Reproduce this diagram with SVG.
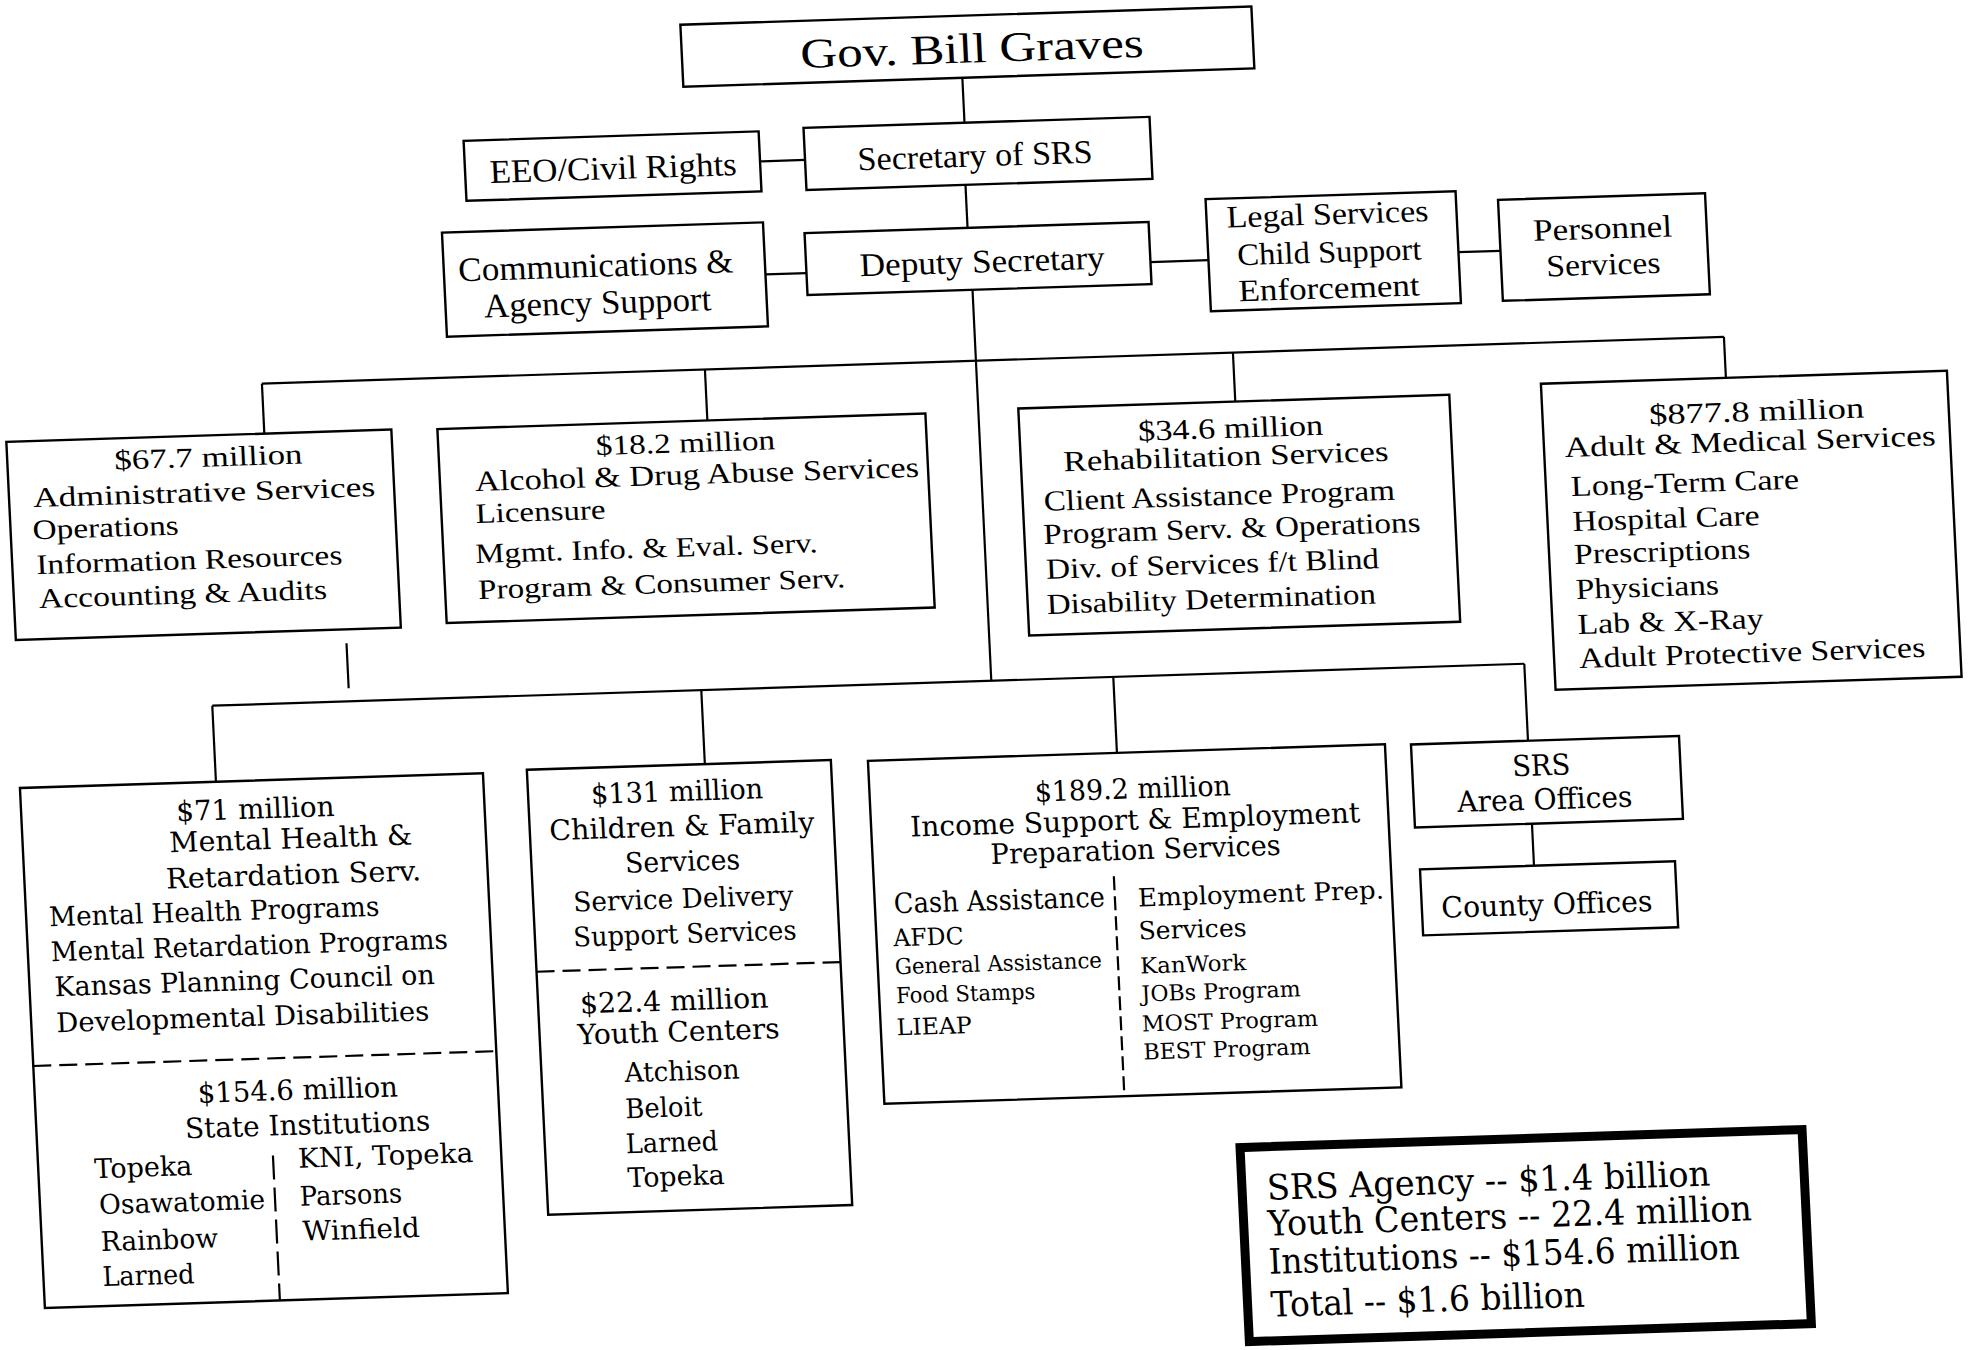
<svg xmlns="http://www.w3.org/2000/svg" width="1970" height="1350" viewBox="0 0 1970 1350">
<style>
.box{fill:#fff;stroke:#000;stroke-width:2.4}
.ln{stroke:#000;stroke-width:2.2;fill:none}
.dh{stroke:#000;stroke-width:2.2;fill:none;stroke-dasharray:18 8}
.dv{stroke:#000;stroke-width:2.2;fill:none;stroke-dasharray:24 8}
.sum{fill:#fff;stroke:#000;stroke-width:9}
text{fill:#000}
.a{font-family:"Liberation Serif","Times New Roman",serif}
.b{font-family:"DejaVu Serif","Liberation Serif",serif}
.m{text-anchor:middle}
</style>
<rect x="0" y="0" width="1970" height="1350" fill="#fff"/>
<g transform="matrix(1,-0.032,0.048,1,-32.4,31.5)">
<g id="connectors">
<line class="ln" x1="991" y1="78" x2="991" y2="123"/>
<line class="ln" x1="785" y1="155" x2="830" y2="155"/>
<line class="ln" x1="989" y1="185" x2="989" y2="228"/>
<line class="ln" x1="785" y1="268" x2="826" y2="268"/>
<line class="ln" x1="1170" y1="268" x2="1228" y2="268"/>
<line class="ln" x1="1478" y1="268" x2="1520" y2="268"/>
<line class="ln" x1="991" y1="290" x2="991" y2="681"/>
<line class="ln" x1="277" y1="361" x2="1739" y2="361"/>
<line class="ln" x1="277" y1="361" x2="277" y2="411"/>
<line class="ln" x1="720" y1="361" x2="720" y2="412"/>
<line class="ln" x1="1248" y1="361" x2="1248" y2="410"/>
<line class="ln" x1="1739" y1="361" x2="1739" y2="402"/>
<line class="ln" x1="349" y1="623" x2="349" y2="668"/>
<line class="ln" x1="212" y1="681" x2="1524" y2="681"/>
<line class="ln" x1="212" y1="681" x2="212" y2="757"/>
<line class="ln" x1="701" y1="681" x2="701" y2="755"/>
<line class="ln" x1="1113" y1="681" x2="1113" y2="757"/>
<line class="ln" x1="1524" y1="681" x2="1524" y2="758"/>
<line class="ln" x1="1524" y1="841" x2="1524" y2="883"/>
</g>
<g id="gov">
<rect class="box" x="712" y="16" width="571" height="62"/>
<text class="a m" x="1002" y="63" font-size="42" textLength="343" lengthAdjust="spacingAndGlyphs">Gov. Bill Graves</text>
</g>
<g id="eeo">
<rect class="box" x="490" y="125" width="295" height="60"/>
<text class="a m" x="638" y="168" font-size="33" textLength="247" lengthAdjust="spacingAndGlyphs">EEO/Civil Rights</text>
</g>
<g id="secretary">
<rect class="box" x="830" y="123" width="346" height="62"/>
<text class="a m" x="1000" y="167" font-size="33" textLength="235" lengthAdjust="spacingAndGlyphs">Secretary of SRS</text>
</g>
<g id="comms">
<rect class="box" x="464" y="216" width="321" height="104"/>
<text class="a m" x="616" y="265" font-size="34" textLength="275" lengthAdjust="spacingAndGlyphs">Communications &amp;</text>
<text class="a m" x="616" y="302" font-size="34" textLength="227" lengthAdjust="spacingAndGlyphs">Agency Support</text>
</g>
<g id="deputy">
<rect class="box" x="826" y="228" width="344" height="62"/>
<text class="a m" x="1002" y="273" font-size="33" textLength="245" lengthAdjust="spacingAndGlyphs">Deputy Secretary</text>
</g>
<g id="legal">
<rect class="box" x="1228" y="207" width="250" height="112"/>
<text class="a m" x="1349" y="236" font-size="31" textLength="202" lengthAdjust="spacingAndGlyphs">Legal Services</text>
<text class="a m" x="1349" y="274" font-size="31" textLength="184" lengthAdjust="spacingAndGlyphs">Child Support</text>
<text class="a m" x="1347" y="310" font-size="31" textLength="181" lengthAdjust="spacingAndGlyphs">Enforcement</text>
</g>
<g id="personnel">
<rect class="box" x="1520" y="217" width="207" height="101"/>
<text class="a m" x="1623" y="259" font-size="31" textLength="139" lengthAdjust="spacingAndGlyphs">Personnel</text>
<text class="a m" x="1622" y="295" font-size="31" textLength="114" lengthAdjust="spacingAndGlyphs">Services</text>
</g>
<g id="admin">
<rect class="box" x="19" y="411" width="385" height="198"/>
<text class="a m" x="220" y="442" font-size="28" textLength="188" lengthAdjust="spacingAndGlyphs">$67.7 million</text>
<text class="a m" x="214" y="477" font-size="28" textLength="342" lengthAdjust="spacingAndGlyphs">Administrative Services</text>
<text class="a" x="41" y="509" font-size="28" textLength="146" lengthAdjust="spacingAndGlyphs">Operations</text>
<text class="a" x="43" y="544" font-size="28" textLength="306" lengthAdjust="spacingAndGlyphs">Information Resources</text>
<text class="a" x="44" y="578" font-size="28" textLength="288" lengthAdjust="spacingAndGlyphs">Accounting &amp; Audits</text>
</g>
<g id="alcohol">
<rect class="box" x="450" y="412" width="488" height="194"/>
<text class="a m" x="697" y="443" font-size="28" textLength="179" lengthAdjust="spacingAndGlyphs">$18.2 million</text>
<text class="a" x="485" y="475" font-size="29" textLength="444" lengthAdjust="spacingAndGlyphs">Alcohol &amp; Drug Abuse Services</text>
<text class="a" x="484" y="507" font-size="28" textLength="130" lengthAdjust="spacingAndGlyphs">Licensure</text>
<text class="a" x="482" y="547" font-size="28" textLength="342" lengthAdjust="spacingAndGlyphs">Mgmt. Info. &amp; Eval. Serv.</text>
<text class="a" x="483" y="583" font-size="28" textLength="367" lengthAdjust="spacingAndGlyphs">Program &amp; Consumer Serv.</text>
</g>
<g id="rehab">
<rect class="box" x="1031" y="410" width="431" height="227"/>
<text class="a m" x="1242" y="446" font-size="29" textLength="185" lengthAdjust="spacingAndGlyphs">$34.6 million</text>
<text class="a m" x="1236" y="474" font-size="29" textLength="325" lengthAdjust="spacingAndGlyphs">Rehabilitation Services</text>
<text class="a" x="1052" y="513" font-size="29" textLength="351" lengthAdjust="spacingAndGlyphs">Client Assistance Program</text>
<text class="a" x="1050" y="546" font-size="29" textLength="377" lengthAdjust="spacingAndGlyphs">Program Serv. &amp; Operations</text>
<text class="a" x="1051" y="581" font-size="29" textLength="333" lengthAdjust="spacingAndGlyphs">Div. of Services f/t Blind</text>
<text class="a" x="1050" y="616" font-size="29" textLength="329" lengthAdjust="spacingAndGlyphs">Disability Determination</text>
</g>
<g id="adult">
<rect class="box" x="1554" y="402" width="406" height="306"/>
<text class="a m" x="1768" y="446" font-size="29" textLength="215" lengthAdjust="spacingAndGlyphs">$877.8 million</text>
<text class="a m" x="1760" y="476" font-size="29" textLength="371" lengthAdjust="spacingAndGlyphs">Adult &amp; Medical Services</text>
<text class="a" x="1579" y="515" font-size="29" textLength="228" lengthAdjust="spacingAndGlyphs">Long-Term Care</text>
<text class="a" x="1579" y="550" font-size="29" textLength="187" lengthAdjust="spacingAndGlyphs">Hospital Care</text>
<text class="a" x="1579" y="583" font-size="29" textLength="176" lengthAdjust="spacingAndGlyphs">Prescriptions</text>
<text class="a" x="1579" y="618" font-size="29" textLength="143" lengthAdjust="spacingAndGlyphs">Physicians</text>
<text class="a" x="1579" y="653" font-size="29" textLength="186" lengthAdjust="spacingAndGlyphs">Lab &amp; X-Ray</text>
<text class="a" x="1579" y="687" font-size="29" textLength="346" lengthAdjust="spacingAndGlyphs">Adult Protective Services</text>
</g>
<g id="mental">
<rect class="box" x="16" y="757" width="463" height="520"/>
<line class="dh" x1="16" y1="1035" x2="479" y2="1035"/>
<line class="dv" x1="251" y1="1132" x2="251" y2="1277"/>
<text class="b m" x="250" y="795" font-size="28" textLength="158" lengthAdjust="spacingAndGlyphs">$71 million</text>
<text class="b m" x="284" y="826" font-size="28" textLength="243" lengthAdjust="spacingAndGlyphs">Mental Health &amp;</text>
<text class="b m" x="285" y="862" font-size="28" textLength="255" lengthAdjust="spacingAndGlyphs">Retardation Serv.</text>
<text class="b" x="39" y="896" font-size="27" textLength="330" lengthAdjust="spacingAndGlyphs">Mental Health Programs</text>
<text class="b" x="39" y="931" font-size="27" textLength="397" lengthAdjust="spacingAndGlyphs">Mental Retardation Programs</text>
<text class="b" x="41" y="966" font-size="27" textLength="380" lengthAdjust="spacingAndGlyphs">Kansas Planning Council on</text>
<text class="b" x="41" y="1002" font-size="27" textLength="373" lengthAdjust="spacingAndGlyphs">Developmental Disabilities</text>
<text class="b m" x="279" y="1077" font-size="28" textLength="200" lengthAdjust="spacingAndGlyphs">$154.6 million</text>
<text class="b m" x="287" y="1112" font-size="28" textLength="245" lengthAdjust="spacingAndGlyphs">State Institutions</text>
<text class="b" x="72" y="1149" font-size="27" textLength="98" lengthAdjust="spacingAndGlyphs">Topeka</text>
<text class="b" x="75" y="1185" font-size="27" textLength="166" lengthAdjust="spacingAndGlyphs">Osawatomie</text>
<text class="b" x="75" y="1222" font-size="27" textLength="117" lengthAdjust="spacingAndGlyphs">Rainbow</text>
<text class="b" x="75" y="1257" font-size="27" textLength="92" lengthAdjust="spacingAndGlyphs">Larned</text>
<text class="b" x="276" y="1145" font-size="27" textLength="175" lengthAdjust="spacingAndGlyphs">KNI, Topeka</text>
<text class="b" x="276" y="1183" font-size="27" textLength="102" lengthAdjust="spacingAndGlyphs">Parsons</text>
<text class="b" x="277" y="1218" font-size="27" textLength="117" lengthAdjust="spacingAndGlyphs">Winfield</text>
</g>
<g id="children">
<rect class="box" x="523" y="755" width="304" height="445"/>
<line class="dh" x1="523" y1="957" x2="827" y2="957"/>
<text class="b m" x="672" y="791" font-size="28" textLength="172" lengthAdjust="spacingAndGlyphs">$131 million</text>
<text class="b m" x="675" y="826" font-size="28" textLength="265" lengthAdjust="spacingAndGlyphs">Children &amp; Family</text>
<text class="b m" x="674" y="861" font-size="28" textLength="115" lengthAdjust="spacingAndGlyphs">Services</text>
<text class="b m" x="673" y="898" font-size="27" textLength="220" lengthAdjust="spacingAndGlyphs">Service Delivery</text>
<text class="b m" x="673" y="933" font-size="27" textLength="223" lengthAdjust="spacingAndGlyphs">Support Services</text>
<text class="b m" x="659" y="1000" font-size="28" textLength="188" lengthAdjust="spacingAndGlyphs">$22.4 million</text>
<text class="b m" x="662" y="1031" font-size="28" textLength="202" lengthAdjust="spacingAndGlyphs">Youth Centers</text>
<text class="b" x="606" y="1070" font-size="27" textLength="115" lengthAdjust="spacingAndGlyphs">Atchison</text>
<text class="b" x="605" y="1106" font-size="27" textLength="77" lengthAdjust="spacingAndGlyphs">Beloit</text>
<text class="b" x="604" y="1141" font-size="27" textLength="92" lengthAdjust="spacingAndGlyphs">Larned</text>
<text class="b" x="604" y="1175" font-size="27" textLength="97" lengthAdjust="spacingAndGlyphs">Topeka</text>
</g>
<g id="income">
<rect class="box" x="864" y="757" width="517" height="343"/>
<line class="ln" x1="1104" y1="880" x2="1104" y2="1100" stroke-dasharray="14 6"/>
<text class="b m" x="1127" y="803" font-size="28" textLength="196" lengthAdjust="spacingAndGlyphs">$189.2 million</text>
<text class="b m" x="1128" y="834" font-size="28" textLength="450" lengthAdjust="spacingAndGlyphs">Income Support &amp; Employment</text>
<text class="b m" x="1127" y="864" font-size="28" textLength="290" lengthAdjust="spacingAndGlyphs">Preparation Services</text>
<text class="b" x="883" y="910" font-size="28" textLength="211" lengthAdjust="spacingAndGlyphs">Cash Assistance</text>
<text class="b" x="881" y="943" font-size="24" textLength="70" lengthAdjust="spacingAndGlyphs">AFDC</text>
<text class="b" x="881" y="971" font-size="22" textLength="207" lengthAdjust="spacingAndGlyphs">General Assistance</text>
<text class="b" x="881" y="1000" font-size="22" textLength="139" lengthAdjust="spacingAndGlyphs">Food Stamps</text>
<text class="b" x="880" y="1032" font-size="23" textLength="75" lengthAdjust="spacingAndGlyphs">LIEAP</text>
<text class="b" x="1127" y="911" font-size="25" textLength="246" lengthAdjust="spacingAndGlyphs">Employment Prep.</text>
<text class="b" x="1126" y="944" font-size="25" textLength="108" lengthAdjust="spacingAndGlyphs">Services</text>
<text class="b" x="1126" y="978" font-size="22" textLength="106" lengthAdjust="spacingAndGlyphs">KanWork</text>
<text class="b" x="1126" y="1006" font-size="22" textLength="159" lengthAdjust="spacingAndGlyphs">JOBs Program</text>
<text class="b" x="1125" y="1036" font-size="22" textLength="176" lengthAdjust="spacingAndGlyphs">MOST Program</text>
<text class="b" x="1125" y="1064" font-size="22" textLength="167" lengthAdjust="spacingAndGlyphs">BEST Program</text>
</g>
<g id="srs-area">
<rect class="box" x="1407" y="758" width="268" height="83"/>
<text class="b m" x="1536" y="793" font-size="29" textLength="58" lengthAdjust="spacingAndGlyphs">SRS</text>
<text class="b m" x="1538" y="827" font-size="29" textLength="175" lengthAdjust="spacingAndGlyphs">Area Offices</text>
</g>
<g id="county">
<rect class="box" x="1410" y="883" width="255" height="66"/>
<text class="b m" x="1535" y="932" font-size="29" textLength="211" lengthAdjust="spacingAndGlyphs">County Offices</text>
</g>
<g id="summary">
<rect class="sum" x="1217" y="1155" width="562" height="194"/>
<text class="b" x="1242" y="1208" font-size="35" textLength="443" lengthAdjust="spacingAndGlyphs">SRS Agency --  $1.4 billion</text>
<text class="b" x="1241" y="1244" font-size="35" textLength="484" lengthAdjust="spacingAndGlyphs">Youth Centers -- 22.4 million</text>
<text class="b" x="1240" y="1282" font-size="35" textLength="471" lengthAdjust="spacingAndGlyphs">Institutions -- $154.6 million</text>
<text class="b" x="1240" y="1325" font-size="35" textLength="314" lengthAdjust="spacingAndGlyphs">Total -- $1.6 billion</text>
</g>
</g>
</svg>
